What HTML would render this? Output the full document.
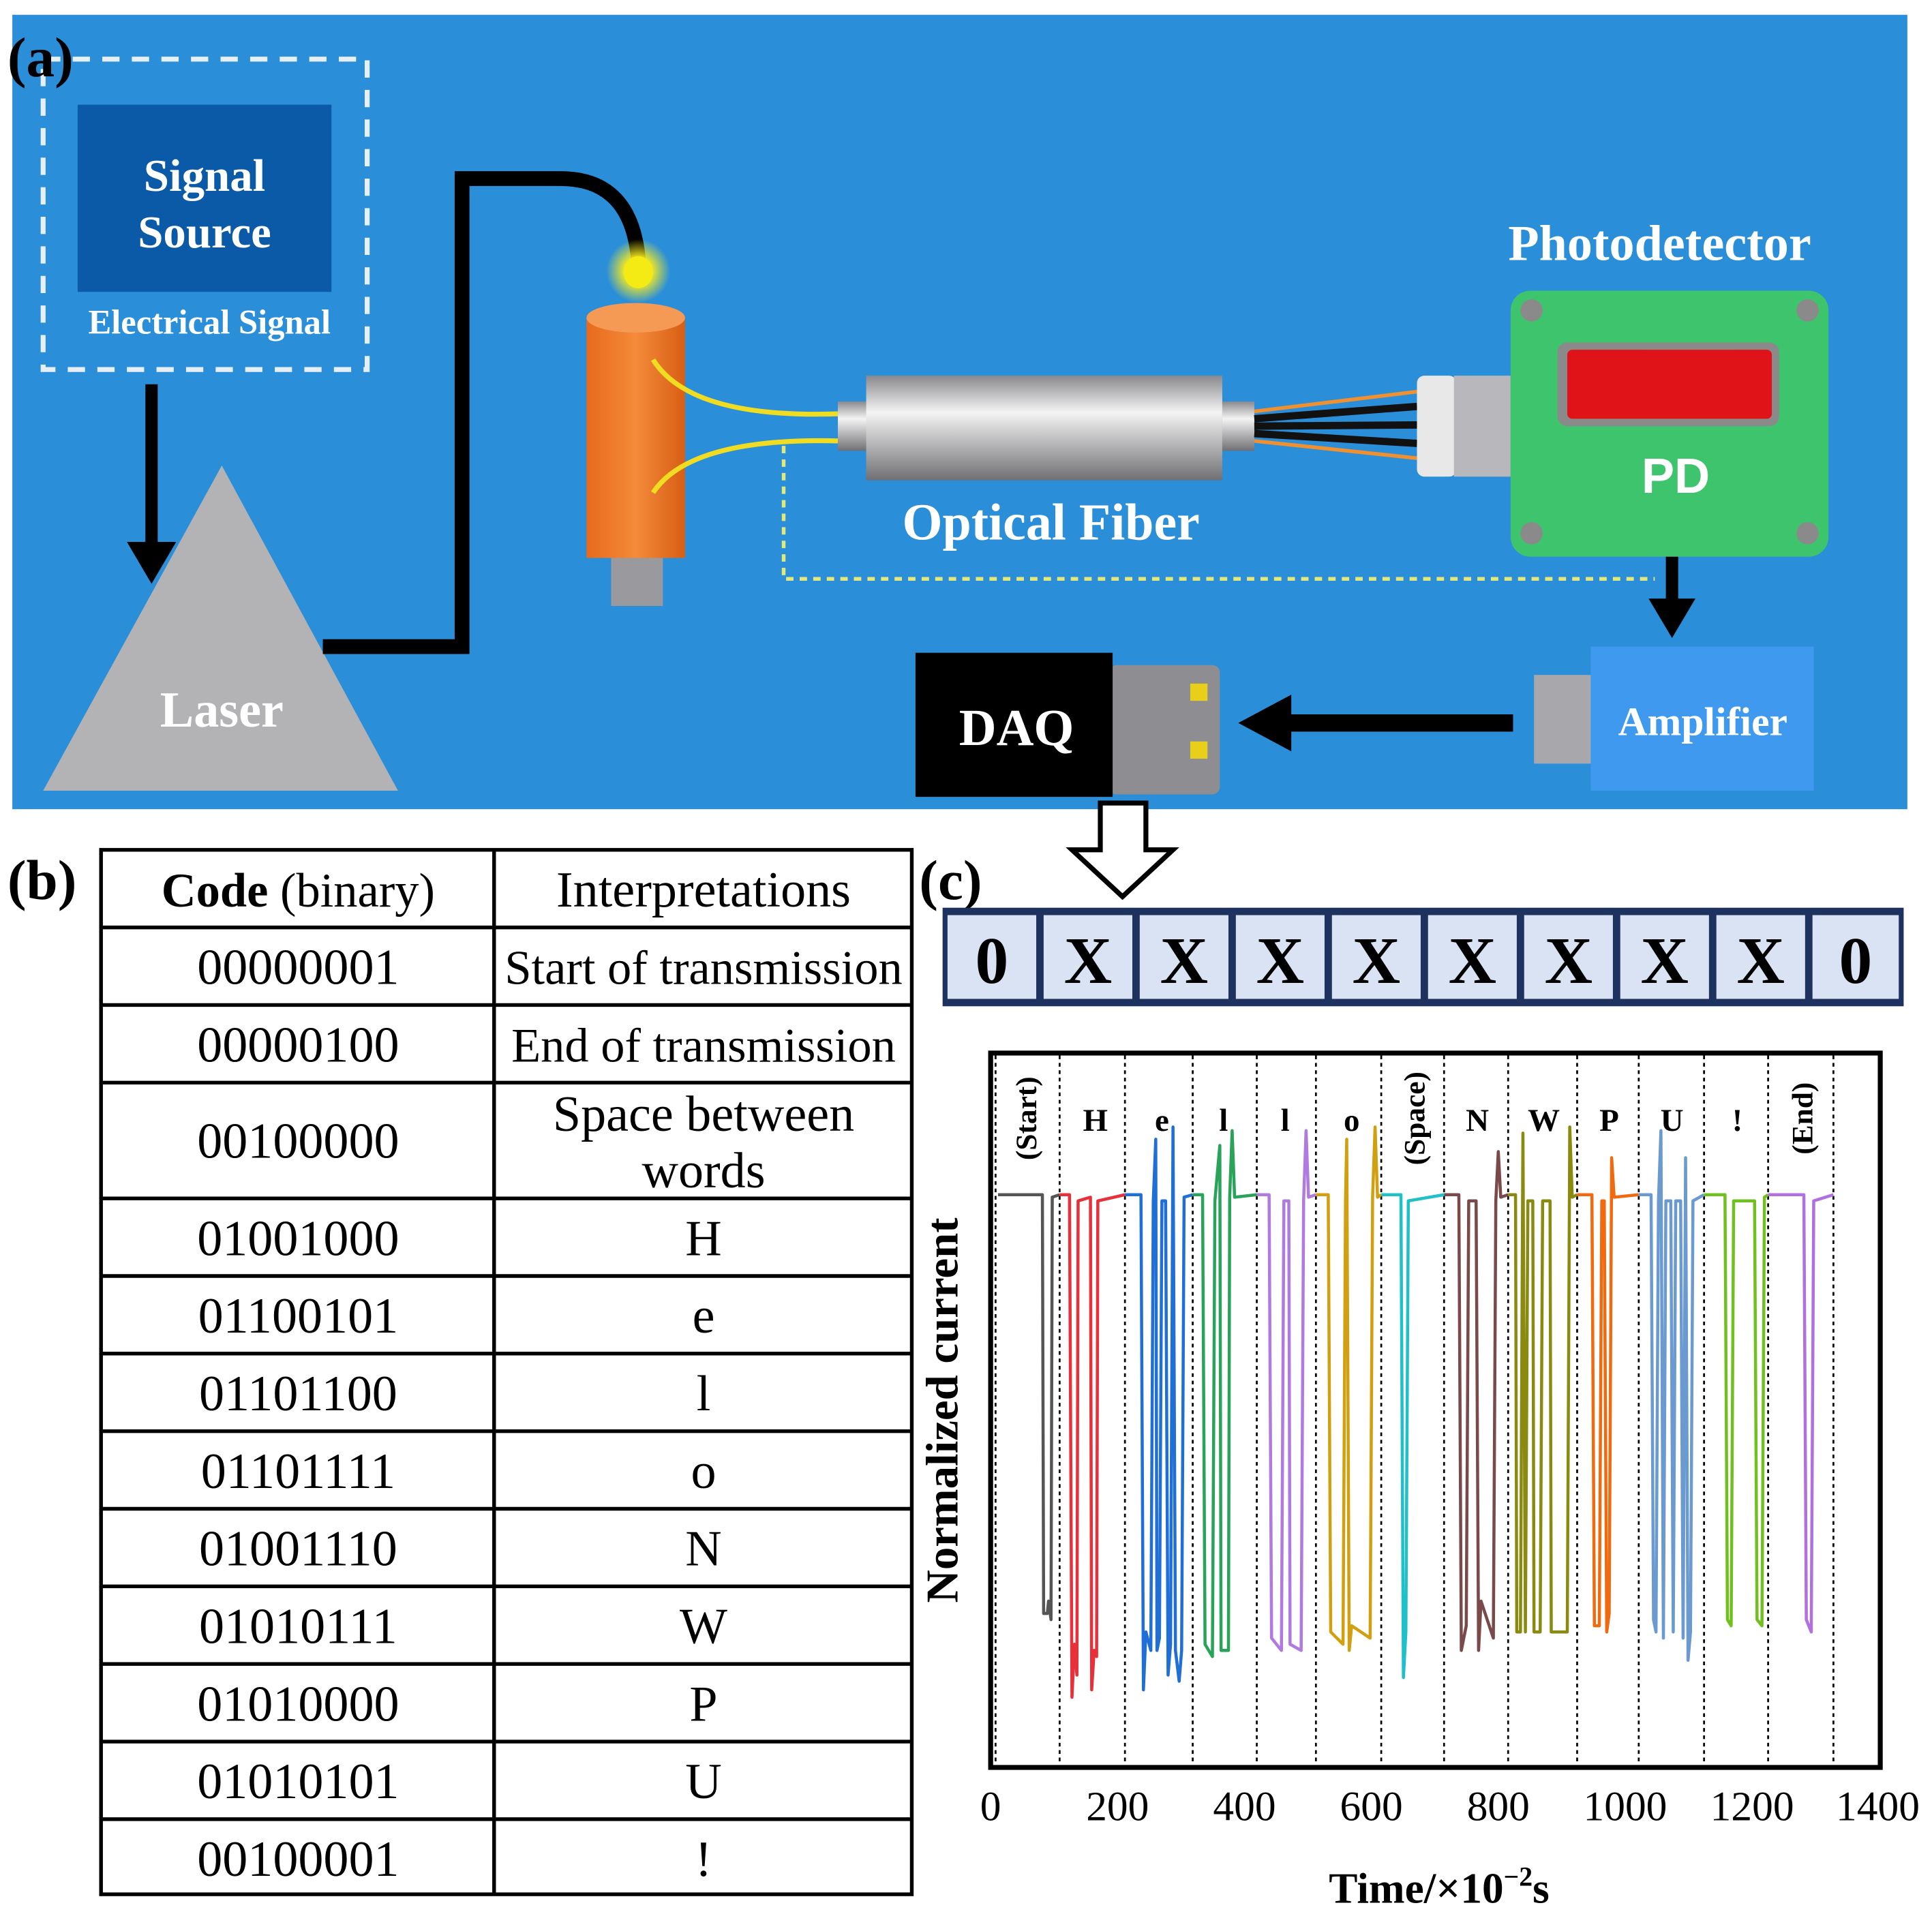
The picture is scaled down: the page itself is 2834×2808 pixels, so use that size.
<!DOCTYPE html>
<html><head><meta charset="utf-8"><style>
html,body{margin:0;padding:0;background:#fff}
svg{display:block}
text{font-family:"Liberation Serif",serif}
</style></head><body>
<svg width="2834" height="2808" viewBox="0 0 1568 1554" preserveAspectRatio="none" xmlns="http://www.w3.org/2000/svg">
<defs>
<linearGradient id="cyl" x1="0" y1="0" x2="0" y2="1"><stop offset="0" stop-color="#8a8a8e"/><stop offset="0.35" stop-color="#f4f4f4"/><stop offset="1" stop-color="#707074"/></linearGradient>
<linearGradient id="org" x1="0" y1="0" x2="1" y2="0"><stop offset="0" stop-color="#e86a1c"/><stop offset="0.5" stop-color="#f48a3a"/><stop offset="1" stop-color="#d85e14"/></linearGradient>
<radialGradient id="glow"><stop offset="0.4" stop-color="#f6ea20"/><stop offset="1" stop-color="#f6ea20" stop-opacity="0"/></radialGradient>
</defs>
<rect x="10" y="12" width="1538" height="645" fill="#2a8fd8"/>
<rect x="35" y="48" width="263" height="252" fill="none" stroke="#e6eef6" stroke-width="4" stroke-dasharray="14,10"/>
<rect x="63" y="85" width="206" height="152" fill="#0b5aa8"/>
<g fill="#fff" font-weight="bold" text-anchor="middle">
<text x="166" y="155" font-size="37">Signal</text>
<text x="166" y="201" font-size="37">Source</text>
<text x="170" y="271" font-size="28">Electrical Signal</text>
</g>
<line x1="123" y1="312" x2="123" y2="445" stroke="#000" stroke-width="10"/>
<polygon points="103,440 143,440 123,474" fill="#000"/>
<polygon points="180,378 35,642 323,642" fill="#b3b3b6"/>
<text x="180" y="590" font-size="41" font-weight="bold" fill="#fff" text-anchor="middle">Laser</text>
<path d="M262,525 L375,525 L375,145 L455,145 Q512,145 518,210" fill="none" stroke="#000" stroke-width="12"/>
<circle cx="518" cy="220" r="26" fill="url(#glow)"/>
<ellipse cx="518" cy="221" rx="12" ry="13" fill="#f4ea14"/>
<rect x="496" y="450" width="42" height="42" fill="#9a9a9e"/>
<rect x="476" y="258" width="80" height="195" fill="url(#org)"/>
<ellipse cx="516" cy="258" rx="40" ry="12" fill="#f59a55"/>
<path d="M530,292 Q560,340 680,336" fill="none" stroke="#f0dc20" stroke-width="4"/>
<path d="M530,400 Q560,355 680,358" fill="none" stroke="#f0dc20" stroke-width="4"/>
<path d="M636,362 L636,470 L1343,470" fill="none" stroke="#e4e87a" stroke-width="3" stroke-dasharray="6,5"/>
<rect x="680" y="326" width="24" height="40" fill="url(#cyl)"/>
<rect x="703" y="305" width="289" height="85" fill="url(#cyl)"/>
<rect x="992" y="326" width="26" height="40" fill="url(#cyl)"/>
<path d="M1018,334 L1150,318 M1018,358 L1150,372" stroke="#f09030" stroke-width="3" fill="none"/>
<path d="M1018,340 L1150,330 M1018,346 L1150,345 M1018,352 L1150,360" stroke="#111" stroke-width="6" fill="none"/>
<rect x="1150" y="305" width="32" height="82" rx="6" fill="#e8e8e8"/>
<rect x="1180" y="305" width="46" height="82" fill="#b8b8bc"/>
<rect x="1226" y="236" width="258" height="216" rx="16" fill="#3ec46c"/>
<rect x="1264" y="278" width="180" height="68" rx="8" fill="#8a8a8a"/>
<rect x="1272" y="284" width="166" height="56" rx="4" fill="#e01418"/>
<g fill="#8a8a8a"><circle cx="1243" cy="252" r="9"/><circle cx="1467" cy="252" r="9"/><circle cx="1243" cy="433" r="9"/><circle cx="1467" cy="433" r="9"/></g>
<text x="1360" y="400" font-size="40" font-weight="bold" fill="#fff" text-anchor="middle" style="font-family:'Liberation Sans',sans-serif">PD</text>
<text x="1347" y="211" font-size="41" font-weight="bold" fill="#fff" text-anchor="middle">Photodetector</text>
<text x="853" y="438" font-size="42" font-weight="bold" fill="#fff" text-anchor="middle">Optical Fiber</text>
<line x1="1357" y1="452" x2="1357" y2="490" stroke="#000" stroke-width="10"/>
<polygon points="1338,486 1376,486 1357,518" fill="#000"/>
<rect x="1245" y="548" width="48" height="72" fill="#a8a8ac"/>
<rect x="1291" y="525" width="181" height="117" fill="#3f99ee"/>
<text x="1382" y="597" font-size="33" font-weight="bold" fill="#fff" text-anchor="middle">Amplifier</text>
<line x1="1228" y1="587" x2="1045" y2="587" stroke="#000" stroke-width="14"/>
<polygon points="1005,587 1048,564 1048,610" fill="#000"/>
<rect x="900" y="540" width="90" height="105" rx="6" fill="#8e8e92"/>
<rect x="966" y="555" width="14" height="14" fill="#e8d01a"/>
<rect x="966" y="602" width="14" height="14" fill="#e8d01a"/>
<rect x="743" y="530" width="160" height="117" fill="#000"/>
<text x="825" y="605" font-size="42" font-weight="bold" fill="#fff" text-anchor="middle">DAQ</text>
<text x="6" y="62" font-size="46" font-weight="bold">(a)</text>
<polygon points="893,652 930,652 930,690 952,690 911,728 870,690 893,690" fill="#fff" stroke="#000" stroke-width="4"/>
<text x="6" y="730" font-size="46" font-weight="bold">(b)</text>
<g stroke="#000" stroke-width="3" fill="none">
<rect x="82" y="690" width="658" height="848"/>
<line x1="401" y1="690" x2="401" y2="1538"/>
<line x1="82" y1="753" x2="740" y2="753"/><line x1="82" y1="816" x2="740" y2="816"/>
<line x1="82" y1="879" x2="740" y2="879"/><line x1="82" y1="973" x2="740" y2="973"/>
<line x1="82" y1="1036" x2="740" y2="1036"/><line x1="82" y1="1099" x2="740" y2="1099"/>
<line x1="82" y1="1162" x2="740" y2="1162"/><line x1="82" y1="1225" x2="740" y2="1225"/>
<line x1="82" y1="1288" x2="740" y2="1288"/><line x1="82" y1="1351" x2="740" y2="1351"/>
<line x1="82" y1="1414" x2="740" y2="1414"/><line x1="82" y1="1477" x2="740" y2="1477"/>
</g>
<g font-size="41" text-anchor="middle">
<text x="242" y="736" font-size="39"><tspan font-weight="bold">Code</tspan> (binary)</text>
<text x="571" y="736">Interpretations</text>
<text x="242" y="799">00000001</text><text x="571" y="799" font-size="39">Start of transmission</text>
<text x="242" y="862">00000100</text><text x="571" y="862" font-size="39">End of transmission</text>
<text x="242" y="940">00100000</text><text x="571" y="918">Space between</text><text x="571" y="964">words</text>
<text x="242" y="1019">01001000</text><text x="571" y="1019">H</text>
<text x="242" y="1082">01100101</text><text x="571" y="1082">e</text>
<text x="242" y="1145">01101100</text><text x="571" y="1145">l</text>
<text x="242" y="1208">01101111</text><text x="571" y="1208">o</text>
<text x="242" y="1271">01001110</text><text x="571" y="1271">N</text>
<text x="242" y="1334">01010111</text><text x="571" y="1334">W</text>
<text x="242" y="1397">01010000</text><text x="571" y="1397">P</text>
<text x="242" y="1460">01010101</text><text x="571" y="1460">U</text>
<text x="242" y="1523">00100001</text><text x="571" y="1523">!</text>
</g>
<text x="746" y="730" font-size="46" font-weight="bold">(c)</text>
<rect x="765" y="737" width="780" height="80" fill="#1e3260"/>
<g fill="#dae3f4">
<rect x="769" y="743" width="72" height="68"/><rect x="847" y="743" width="72" height="68"/>
<rect x="925" y="743" width="72" height="68"/><rect x="1003" y="743" width="72" height="68"/>
<rect x="1081" y="743" width="72" height="68"/><rect x="1159" y="743" width="72" height="68"/>
<rect x="1237" y="743" width="72" height="68"/><rect x="1315" y="743" width="72" height="68"/>
<rect x="1393" y="743" width="72" height="68"/><rect x="1471" y="743" width="70" height="68"/>
</g>
<g font-size="54" font-weight="bold" text-anchor="middle">
<text x="805" y="798">0</text><text x="883" y="798">X</text><text x="961" y="798">X</text><text x="1039" y="798">X</text><text x="1117" y="798">X</text><text x="1195" y="798">X</text><text x="1273" y="798">X</text><text x="1351" y="798">X</text><text x="1429" y="798">X</text><text x="1506" y="798">0</text>
</g>
<rect x="804" y="855" width="722" height="580" fill="none" stroke="#000" stroke-width="4"/>
<g stroke="#000" stroke-width="1.5" stroke-dasharray="3,3">
<line x1="808" y1="857" x2="808" y2="1433"/><line x1="860" y1="857" x2="860" y2="1433"/><line x1="913" y1="857" x2="913" y2="1433"/><line x1="968" y1="857" x2="968" y2="1433"/><line x1="1020" y1="857" x2="1020" y2="1433"/><line x1="1068" y1="857" x2="1068" y2="1433"/><line x1="1121" y1="857" x2="1121" y2="1433"/><line x1="1172" y1="857" x2="1172" y2="1433"/><line x1="1224" y1="857" x2="1224" y2="1433"/><line x1="1280" y1="857" x2="1280" y2="1433"/><line x1="1330" y1="857" x2="1330" y2="1433"/><line x1="1383" y1="857" x2="1383" y2="1433"/><line x1="1435" y1="857" x2="1435" y2="1433"/><line x1="1488" y1="857" x2="1488" y2="1433"/>
</g>
<g fill="none" stroke-width="2.5" stroke-linejoin="round">
<path stroke="#555" d="M810 970 L846 970 L847 1310 L850 1310 L851 1300 L853 1315 L854 972 L860 970"/>
<path stroke="#e8303a" d="M860 970 L868 970 L870 1378 L872 1335 L874 1360 L875 975 L885 972 L886 1372 L888 1340 L890 1345 L891 975 L913 970"/>
<path stroke="#1f6fd6" d="M913 970 L926 970 L928 1372 L930 1325 L934 1340 L936 975 L938 925 L939 1340 L941 1330 L943 975 L946 975 L948 1360 L950 1335 L952 915 L954 1340 L957 1365 L959 1340 L961 972 L968 970"/>
<path stroke="#2aa35a" d="M968 970 L976 970 L978 1335 L984 1345 L986 975 L990 930 L991 1340 L997 1340 L998 972 L1000 918 L1002 972 L1020 970"/>
<path stroke="#b07ae0" d="M1020 970 L1030 970 L1032 1330 L1040 1340 L1042 975 L1046 975 L1047 1335 L1056 1340 L1058 975 L1060 918 L1062 972 L1068 970"/>
<path stroke="#d0a010" d="M1068 970 L1078 970 L1080 1325 L1090 1335 L1092 975 L1093 925 L1095 1340 L1097 1320 L1112 1330 L1114 972 L1116 915 L1118 972 L1121 970"/>
<path stroke="#20c0c8" d="M1121 970 L1137 970 L1139 1362 L1141 1325 L1143 975 L1172 970"/>
<path stroke="#7a4a4a" d="M1172 970 L1184 970 L1186 1340 L1190 1320 L1192 975 L1198 975 L1200 1340 L1202 1300 L1212 1330 L1214 975 L1216 935 L1218 972 L1224 970"/>
<path stroke="#8a8a10" d="M1224 970 L1230 970 L1231 1325 L1234 1325 L1236 920 L1238 1325 L1240 975 L1244 975 L1245 1325 L1250 1325 L1252 975 L1258 975 L1259 1325 L1272 1325 L1274 915 L1276 972 L1280 970"/>
<path stroke="#f06a10" d="M1280 970 L1292 970 L1294 1320 L1298 1320 L1300 975 L1302 975 L1304 1325 L1306 1310 L1308 940 L1310 972 L1330 970"/>
<path stroke="#6a9ad0" d="M1330 970 L1340 970 L1342 1315 L1344 1325 L1346 975 L1348 918 L1350 1330 L1352 975 L1356 975 L1358 1325 L1360 975 L1364 975 L1366 1330 L1368 940 L1370 1348 L1372 1325 L1374 975 L1383 970"/>
<path stroke="#70c020" d="M1383 970 L1400 970 L1402 1315 L1405 1320 L1407 975 L1424 975 L1426 1315 L1430 1320 L1432 972 L1435 970"/>
<path stroke="#b070e0" d="M1435 970 L1464 970 L1466 1315 L1470 1325 L1472 975 L1488 970"/>
</g>
<g font-size="26" font-weight="bold" text-anchor="middle">
<text x="889" y="918">H</text><text x="943" y="918">e</text><text x="993" y="918">l</text><text x="1043" y="918">l</text><text x="1097" y="918">o</text><text x="1199" y="918">N</text><text x="1253" y="918">W</text><text x="1306" y="918">P</text><text x="1357" y="918">U</text><text x="1410" y="918">!</text>
<text transform="translate(841,908) rotate(-90)" font-size="24">(Start)</text>
<text transform="translate(1156,908) rotate(-90)" font-size="24">(Space)</text>
<text transform="translate(1471,908) rotate(-90)" font-size="24">(End)</text>
</g>
<text transform="translate(777,1145) rotate(-90)" font-size="37" font-weight="bold" text-anchor="middle">Normalized current</text>
<g font-size="34" text-anchor="middle">
<text x="804" y="1478">0</text><text x="907" y="1478">200</text><text x="1010" y="1478">400</text><text x="1113" y="1478">600</text><text x="1216" y="1478">800</text><text x="1319" y="1478">1000</text><text x="1422" y="1478">1200</text><text x="1524" y="1478">1400</text>
</g>
<text x="1168" y="1545" font-size="35" font-weight="bold" text-anchor="middle">Time/×10<tspan font-size="22" dy="-14">−2</tspan><tspan dy="14">s</tspan></text>
</svg>
</body></html>
